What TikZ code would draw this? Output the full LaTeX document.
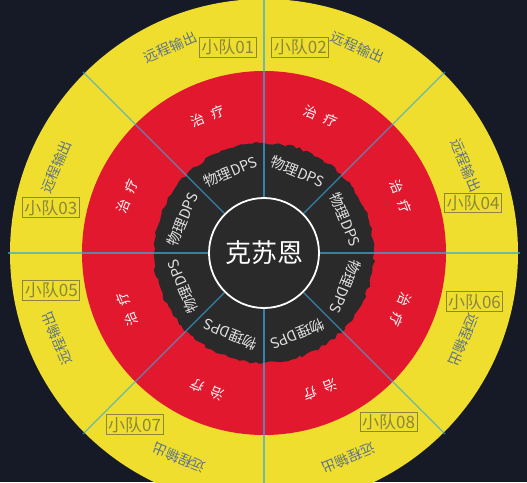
\documentclass[tikz,border=0pt]{standalone}
\usepackage{fontspec}
\setmainfont{Noto Sans CJK SC}
\usetikzlibrary{decorations.pathmorphing}

\definecolor{night}{HTML}{161A26}
\definecolor{sunyellow}{HTML}{EFDE2E}
\definecolor{bloodred}{HTML}{E2182F}
\definecolor{coal}{HTML}{2A2A2A}
\definecolor{spokeblue}{HTML}{38A9E0}
\definecolor{squadolive}{HTML}{8A873A}
\definecolor{rangedgrey}{HTML}{5E7387}

\tikzset{
  dps/.style={text=white!88!black, font=\fontsize{14.5}{14.5}\selectfont, inner sep=1pt},
  heal/.style={text=white, font=\fontsize{13.5}{13.5}\selectfont, inner sep=1pt},
  ranged/.style={text=rangedgrey, font=\fontsize{14}{14}\selectfont, inner sep=1pt},
  squad/.style={draw=squadolive, line width=0.9pt, text=squadolive, inner sep=2pt,
    font=\fontsize{17}{17}\selectfont},
  spoke/.style={draw=spokeblue, line width=1.3pt, draw opacity=0.7},
}

\begin{document}
\begin{tikzpicture}[x=1pt, y=1pt]
    \useasboundingbox (-264,-229) rectangle (263,253);
    \fill[night] (-264,-229) rectangle (263,253);
    \clip (-264,-229) rectangle (263,253);

    % rings
    \fill[sunyellow] (0,0) circle (254);
    \fill[bloodred] (0,0) circle (182);
    \pgfmathsetseed{7}
    \fill[coal, decorate, decoration={random steps, segment length=4pt, amplitude=1.4pt}]
        (0,0) circle (110);

    \node[circle, draw=white, line width=1.8pt, fill=coal, minimum size=110pt, inner sep=0pt,
        text=white, font=\fontsize{26}{26}\selectfont] (boss) at (0,0) {克苏恩};

    % spokes
    \draw[spoke] (boss.0) -- (0:256);
    \draw[spoke] (boss.45) -- (45:256);
    \draw[spoke] (boss.90) -- (90:256);
    \draw[spoke] (boss.135) -- (135:256);
    \draw[spoke] (boss.180) -- (180:256);
    \draw[spoke] (boss.225) -- (225:256);
    \draw[spoke] (boss.270) -- (270:256);
    \draw[spoke] (boss.315) -- (315:256);

    % inner ring
    \node[dps, rotate=22.5] (dps1) at (112.5:88) {物理DPS};
    \node[dps, rotate=-22.5] (dps2) at (67.5:88) {物理DPS};
    \node[dps, rotate=67.5] (dps3) at (157.5:88) {物理DPS};
    \node[dps, rotate=-67.5] (dps4) at (22.5:88) {物理DPS};
    \node[dps, rotate=112.5] (dps5) at (202.5:88) {物理DPS};
    \node[dps, rotate=-112.5] (dps6) at (-22.5:88) {物理DPS};
    \node[dps, rotate=157.5] (dps7) at (247.5:88) {物理DPS};
    \node[dps, rotate=-157.5] (dps8) at (-67.5:88) {物理DPS};

    % middle ring
    \node[heal, rotate=22.5] (heal1) at (112.5:148) {治\hspace{0.6em}疗};
    \node[heal, rotate=-22.5] (heal2) at (67.5:148) {治\hspace{0.6em}疗};
    \node[heal, rotate=67.5] (heal3) at (157.5:148) {治\hspace{0.6em}疗};
    \node[heal, rotate=-67.5] (heal4) at (22.5:148) {治\hspace{0.6em}疗};
    \node[heal, rotate=112.5] (heal5) at (202.5:148) {治\hspace{0.6em}疗};
    \node[heal, rotate=-112.5] (heal6) at (-22.5:148) {治\hspace{0.6em}疗};
    \node[heal, rotate=157.5] (heal7) at (247.5:148) {治\hspace{0.6em}疗};
    \node[heal, rotate=-157.5] (heal8) at (-67.5:148) {治\hspace{0.6em}疗};

    % outer ring
    \node[ranged, rotate=24] (ranged1) at (114.5:226) {远程输出};
    \node[ranged, rotate=-24] (ranged2) at (65.5:226) {远程输出};
    \node[ranged, rotate=67.5] (ranged3) at (157.5:225) {远程输出};
    \node[ranged, rotate=-67.5] (ranged4) at (23.5:220) {远程输出};
    \node[ranged, rotate=112.5] (ranged5) at (202.5:224) {远程输出};
    \node[ranged, rotate=-112.5] (ranged6) at (-23.5:218) {远程输出};
    \node[ranged, rotate=157.5] (ranged7) at (247.5:222) {远程输出};
    \node[ranged, rotate=-157.5] (ranged8) at (-67.5:222) {远程输出};

    \node[squad] (squad1) at (100:209) {小队01};
    \node[squad] (squad2) at (80:209) {小队02};
    \node[squad] (squad3) at (168:218) {小队03};
    \node[squad] (squad4) at (13.5:215) {小队04};
    \node[squad] (squad5) at (190:216) {小队05};
    \node[squad] (squad6) at (-13:216) {小队06};
    \node[squad] (squad7) at (233:215) {小队07};
    \node[squad] (squad8) at (-53.6:210) {小队08};
\end{tikzpicture}
\end{document}
